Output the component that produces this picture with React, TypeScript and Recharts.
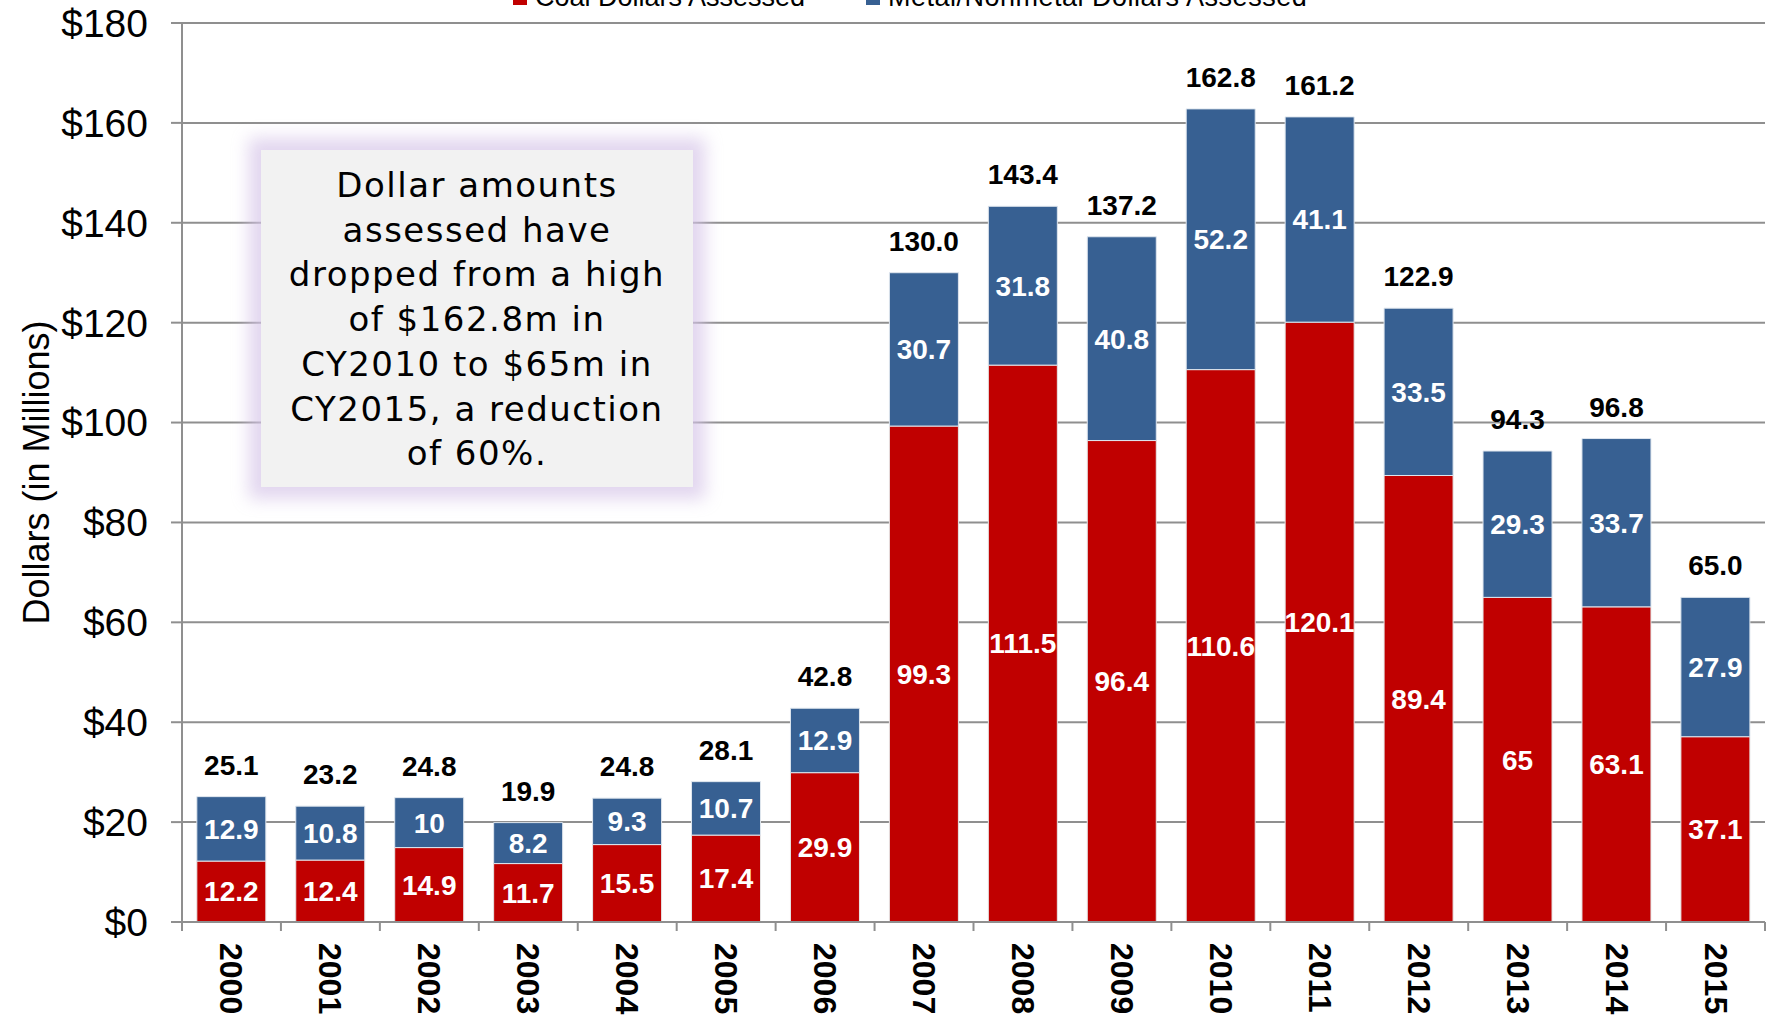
import {
  BarChart,
  Bar,
  XAxis,
  YAxis,
  CartesianGrid,
  Legend,
  LabelList,
  Label,
} from 'recharts'

const years = [
  '2000', '2001', '2002', '2003', '2004', '2005', '2006', '2007',
  '2008', '2009', '2010', '2011', '2012', '2013', '2014', '2015',
]
const coalAssessed = [12.2, 12.4, 14.9, 11.7, 15.5, 17.4, 29.9, 99.3, 111.5, 96.4, 110.6, 120.1, 89.4, 65, 63.1, 37.1]
const metalAssessed = [12.9, 10.8, 10, 8.2, 9.3, 10.7, 12.9, 30.7, 31.8, 40.8, 52.2, 41.1, 33.5, 29.3, 33.7, 27.9]
const totalAssessed = [25.1, 23.2, 24.8, 19.9, 24.8, 28.1, 42.8, 130.0, 143.4, 137.2, 162.8, 161.2, 122.9, 94.3, 96.8, 65.0]
const yTicks = [0, 20, 40, 60, 80, 100, 120, 140, 160, 180]

const seriesNames = ['Coal Dollars Assessed', 'Metal/Nonmetal Dollars Assessed']
const noteLines = [
  'Dollar amounts',
  'assessed have',
  'dropped from a high',
  'of $162.8m in',
  'CY2010 to $65m in',
  'CY2015, a reduction',
  'of 60%.',
]

const COAL_RED = '#C00000'
const METAL_BLUE = '#376092'
const AXIS_GRAY = '#8f8f8f'
const FONT = '"Liberation Sans", Arial, sans-serif'

const chartData = years.map((year, i) => ({
  year,
  coal: coalAssessed[i],
  metal: metalAssessed[i],
  total: totalAssessed[i],
}))

const YearTick = (props: any) => {
  const { x, y, payload, index } = props
  const half = payload?.offset > 0 ? payload.offset : 49.47
  return (
    <g>
      <line x1={x - half} x2={x - half} y1={y} y2={y + 9} stroke={AXIS_GRAY} strokeWidth={2} />
      {index === years.length - 1 && (
        <line x1={x + half} x2={x + half} y1={y} y2={y + 9} stroke={AXIS_GRAY} strokeWidth={2} />
      )}
      <text
        transform={`translate(${x},${y + 21}) rotate(90)`}
        textAnchor="start"
        dominantBaseline="central"
        fontFamily={FONT}
        fontSize={32}
        fontWeight="bold"
        fill="#000"
      >
        {payload.value}
      </text>
    </g>
  )
}

const renderYLabel = (props: any) => {
  const vb = props.viewBox || {}
  const cy = (vb.y ?? 23) + (vb.height ?? 899) / 2
  return (
    <text
      transform={`translate(36,${cy}) rotate(-90)`}
      textAnchor="middle"
      dominantBaseline="central"
      fontFamily={FONT}
      fontSize={36}
      fill="#000"
    >
      Dollars (in Millions)
    </text>
  )
}

const renderLegend = () => {
  const colors = [COAL_RED, METAL_BLUE]
  const lefts = [0, 353]
  return (
    <div style={{ position: 'relative', height: 27, fontFamily: FONT, fontSize: 27, lineHeight: '27px', color: '#000' }}>
      {seriesNames.map((name, i) => (
        <div
          key={name}
          style={{
            position: 'absolute',
            left: lefts[i],
            top: 0,
            display: 'flex',
            alignItems: 'center',
            whiteSpace: 'nowrap',
            letterSpacing: i === 1 ? '0.5px' : undefined,
          }}
        >
          <span style={{ display: 'inline-block', width: 14, height: 14, background: colors[i], marginRight: 8 }} />
          {name}
        </div>
      ))}
    </div>
  )
}

export default function App() {
  return (
    <div style={{ position: 'absolute', left: 0, top: 0, width: 1772, height: 1015, overflow: 'hidden', background: '#fff' }}>
      <BarChart
        width={1772}
        height={1015}
        data={chartData}
        barCategoryGap="15%"
        margin={{ top: 23, right: 7, left: 12, bottom: 0 }}
      >
        <CartesianGrid vertical={false} stroke={AXIS_GRAY} strokeWidth={2} />
        <XAxis
          dataKey="year"
          height={93}
          interval={0}
          tickLine={false}
          tickSize={0}
          tickMargin={0}
          axisLine={{ stroke: AXIS_GRAY, strokeWidth: 2 }}
          tick={<YearTick />}
        />
        <YAxis
          width={170}
          domain={[0, 180]}
          ticks={yTicks}
          interval={0}
          tickFormatter={(v: number) => `$${v}`}
          tick={{ fontFamily: FONT, fontSize: 39, fill: '#000' }}
          tickSize={11}
          tickMargin={23}
          tickLine={{ stroke: AXIS_GRAY, strokeWidth: 2 }}
          axisLine={{ stroke: AXIS_GRAY, strokeWidth: 2 }}
        >
          <Label content={renderYLabel} />
        </YAxis>
        <Legend
          verticalAlign="middle"
          align="center"
          layout="horizontal"
          wrapperStyle={{ top: -16, left: 513, width: 900, height: 30 }}
          content={renderLegend}
        />
        <Bar
          dataKey="coal"
          name={seriesNames[0]}
          stackId="a"
          fill={COAL_RED}
          stroke="#e6e6e6"
          strokeWidth={1}
          isAnimationActive={false}
        >
          <LabelList
            dataKey="coal"
            position="center"
            fill="#fff"
            fontFamily={FONT}
            fontSize={28}
            fontWeight="bold"
          />
        </Bar>
        <Bar
          dataKey="metal"
          name={seriesNames[1]}
          stackId="a"
          fill={METAL_BLUE}
          stroke="#dfe6ee"
          strokeWidth={1}
          isAnimationActive={false}
        >
          <LabelList
            dataKey="metal"
            position="center"
            fill="#fff"
            fontFamily={FONT}
            fontSize={28}
            fontWeight="bold"
          />
          <LabelList
            dataKey="total"
            position="top"
            offset={22}
            formatter={(v: any) => Number(v).toFixed(1)}
            fill="#000"
            fontFamily={FONT}
            fontSize={28}
            fontWeight="bold"
          />
        </Bar>
      </BarChart>
      <div
        style={{
          position: 'absolute',
          left: 261,
          top: 150,
          width: 432,
          height: 337,
          boxSizing: 'border-box',
          paddingTop: 13,
          background: '#f2f2f2',
          boxShadow: '0 0 16px 12px rgba(214, 196, 232, 0.7)',
          fontFamily: '"DejaVu Sans", Verdana, sans-serif',
          fontSize: 34,
          lineHeight: '44.7px',
          letterSpacing: '1.5px',
          textAlign: 'center',
          color: '#000',
          whiteSpace: 'nowrap',
        }}
      >
        {noteLines.map((line) => (
          <div key={line}>{line}</div>
        ))}
      </div>
    </div>
  )
}
